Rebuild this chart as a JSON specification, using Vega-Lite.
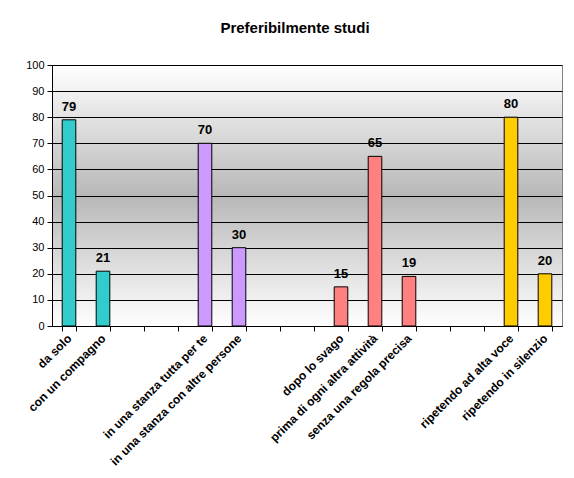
{
  "$schema": "https://vega.github.io/schema/vega-lite/v6.json",
  "width": 510,
  "height": 261,
  "autosize": "none",
  "padding": {"left": 52, "top": 65, "right": 12, "bottom": 152},
  "background": "white",
  "title": {
    "text": "Preferibilmente studi",
    "font": "Liberation Sans",
    "fontSize": 15,
    "fontWeight": "bold",
    "color": "black",
    "anchor": "middle",
    "offset": 23,
    "dx": -12
  },
  "config": {
    "font": "Liberation Sans",
    "view": {
      "stroke": "#808080",
      "strokeWidth": 1,
      "fill": {
        "gradient": "linear",
        "x1": 0, "y1": 0, "x2": 0, "y2": 1,
        "stops": [
          {"offset": 0, "color": "#ffffff"},
          {"offset": 0.5, "color": "#b8b8b8"},
          {"offset": 1, "color": "#ffffff"}
        ]
      }
    }
  },
  "data": {
    "values": [
      {"cat": "da solo", "value": 79, "group": "A"},
      {"cat": "con un compagno", "value": 21, "group": "A"},
      {"cat": "in una stanza tutta per te", "value": 70, "group": "B"},
      {"cat": "in una stanza con altre persone", "value": 30, "group": "B"},
      {"cat": "dopo lo svago", "value": 15, "group": "C"},
      {"cat": "prima di ogni altra attività", "value": 65, "group": "C"},
      {"cat": "senza una regola precisa", "value": 19, "group": "C"},
      {"cat": "ripetendo ad alta voce", "value": 80, "group": "D"},
      {"cat": "ripetendo in silenzio", "value": 20, "group": "D"}
    ]
  },
  "encoding": {
    "x": {
      "field": "cat",
      "type": "nominal",
      "sort": null,
      "scale": {
        "domain": ["da solo", "con un compagno", " ", "  ", "in una stanza tutta per te", "in una stanza con altre persone", "   ", "    ", "dopo lo svago", "prima di ogni altra attività", "senza una regola precisa", "     ", "      ", "ripetendo ad alta voce", "ripetendo in silenzio"],
        "paddingInner": 0.6,
        "paddingOuter": 0.3
      },
      "axis": {
        "title": null,
        "labelAngle": -45,
        "labelAlign": "right",
        "labelBaseline": "middle",
        "labelFont": "Liberation Sans",
        "labelFontSize": 12,
        "labelFontWeight": "bold",
        "labelColor": "black",
        "labelLimit": 300,
        "labelOverlap": false,
        "labelPadding": 5,
        "tickBand": "extent",
        "tickColor": "black",
        "tickSize": 5,
        "domainColor": "black",
        "grid": false
      }
    },
    "y": {
      "field": "value",
      "type": "quantitative",
      "scale": {"domain": [0, 100], "nice": false},
      "axis": {
        "title": null,
        "values": [0, 10, 20, 30, 40, 50, 60, 70, 80, 90, 100],
        "labelFont": "Liberation Sans",
        "labelFontSize": 11,
        "labelColor": "black",
        "labelPadding": 3,
        "tickColor": "black",
        "tickSize": 5,
        "domainColor": "black",
        "grid": true,
        "gridColor": "black",
        "gridOpacity": 1,
        "gridWidth": 1
      }
    }
  },
  "layer": [
    {
      "mark": {"type": "bar", "stroke": "black", "strokeWidth": 1},
      "encoding": {
        "color": {
          "field": "group",
          "type": "nominal",
          "scale": {"domain": ["A", "B", "C", "D"], "range": ["#33CCCC", "#CC99FF", "#FF8080", "#FFCC00"]},
          "legend": null
        }
      }
    },
    {
      "mark": {"type": "text", "baseline": "bottom", "dy": -6, "fontSize": 13, "fontWeight": "bold", "font": "Liberation Sans", "color": "black"},
      "encoding": {"text": {"field": "value", "type": "quantitative"}}
    }
  ]
}
